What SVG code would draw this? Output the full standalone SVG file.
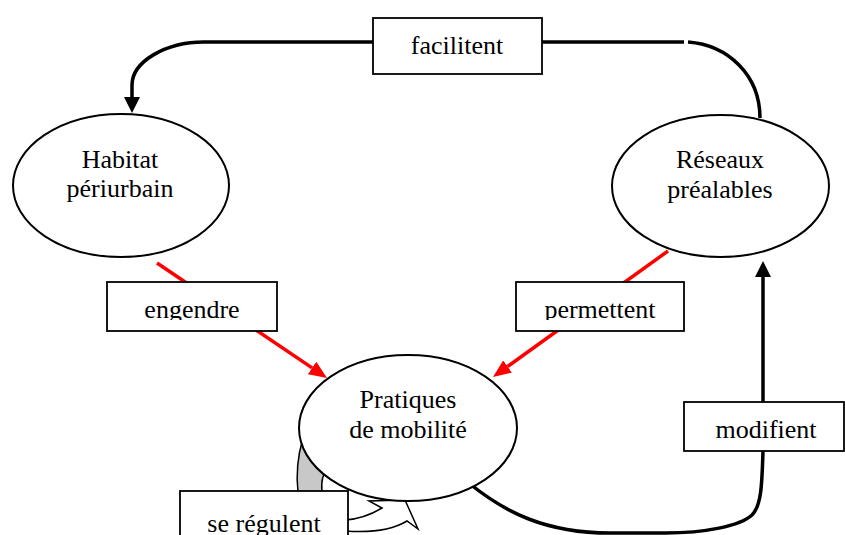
<svg xmlns="http://www.w3.org/2000/svg" width="845" height="535" viewBox="0 0 845 535">
<style>
.node{fill:#fff;stroke:#000;stroke-width:2}
.lbl{fill:#fff;stroke:#000;stroke-width:1.8}
.t{font-family:"Liberation Serif","Times New Roman",serif;font-size:26px;fill:#000;text-anchor:middle}
.blk{fill:none;stroke:#000;stroke-width:3.5}
.red{fill:none;stroke:#ff0000;stroke-width:3.5}
</style>
<defs>
<marker id="ab" markerUnits="userSpaceOnUse" markerWidth="16" markerHeight="16" refX="0" refY="8" orient="auto" viewBox="0 0 16 16">
<path d="M0,0 L16,8 L0,16 Z" fill="#000"/>
</marker>
<marker id="ar" markerUnits="userSpaceOnUse" markerWidth="18" markerHeight="15" refX="0" refY="7.5" orient="auto" viewBox="0 0 18 15">
<path d="M0,0 L18,7.5 L0,15 Z" fill="#ff0000"/>
</marker>
<clipPath id="c1"><rect x="107" y="282" width="170" height="38"/></clipPath>
<clipPath id="c2"><rect x="516" y="282" width="168" height="38"/></clipPath>
</defs>

<g id="connectors">
<path class="blk" d="M373,42 L204,42 C165,42 132,62 132,85 L132,97" stroke-width="3.5" marker-end="url(#ab)"/>
<path class="blk" d="M542,42 L640,42" stroke-width="3"/>
<path class="blk" d="M640,42 L684,42" stroke-width="4.5"/>
<path class="blk" d="M688,42 C728,45 760,75 760,118" stroke-width="4"/>
<path class="red" d="M157,263 L312.1,367.9" marker-end="url(#ar)"/>
<path class="red" d="M668,251 L507.6,366.5" marker-end="url(#ar)"/>
<path class="blk" d="M763,402 L763,277" marker-end="url(#ab)"/>
<path class="blk" d="M470,484 C505,512 545,533 610,533 L665,533 C705,533 740,526 752,515 C762,505 762,480 763,451"/>
<g id="selfloop">
<path d="M303,438 C298,455 296,475 298,492 L322,492 C321,482 322,474 330,465 Z" fill="#c8c8c8" stroke="#000" stroke-width="1.5"/>
<path d="M345,520 C360,519 372,514 382,508 L369,501 L405,500 L418,529 L407,521 C392,530 370,533 345,531 Z" fill="#fff" stroke="#000" stroke-width="1.5"/>
</g>
</g>

<g id="habitat">
<ellipse class="node" cx="121" cy="185.5" rx="108" ry="71.5"/>
<text class="t" x="120" y="168">Habitat</text>
<text class="t" x="120" y="197">périurbain</text>
</g>

<g id="reseaux">
<ellipse class="node" cx="720.5" cy="186" rx="108.5" ry="71"/>
<text class="t" x="720" y="168">Réseaux</text>
<text class="t" x="720" y="198">préalables</text>
</g>

<g id="pratiques">
<ellipse class="node" cx="408" cy="428" rx="109" ry="73"/>
<text class="t" x="408" y="408">Pratiques</text>
<text class="t" x="408" y="438">de mobilité</text>
</g>

<g id="facilitent">
<rect class="lbl" x="373" y="18" width="169" height="56"/>
<text class="t" x="457" y="54">facilitent</text>
</g>

<g id="engendre">
<rect class="lbl" x="107" y="282" width="170" height="49"/>
<text class="t" x="192" y="318" clip-path="url(#c1)">engendre</text>
</g>

<g id="permettent">
<rect class="lbl" x="516" y="282" width="168" height="49"/>
<text class="t" x="600" y="318" clip-path="url(#c2)">permettent</text>
</g>

<g id="modifient">
<rect class="lbl" x="684" y="402" width="160" height="49"/>
<text class="t" x="766" y="438">modifient</text>
</g>

<g id="seregulent">
<rect class="lbl" x="180" y="491" width="168" height="60"/>
<text class="t" x="264" y="532">se régulent</text>
</g>
</svg>
